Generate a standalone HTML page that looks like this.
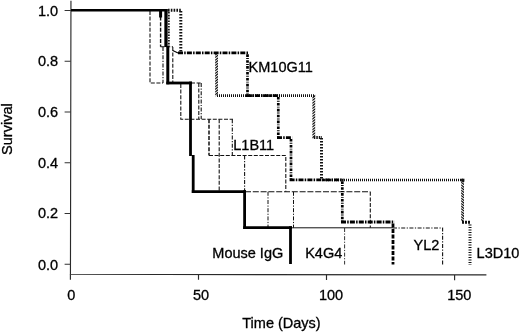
<!DOCTYPE html>
<html><head><meta charset="utf-8"><title>Survival</title>
<style>
html,body{margin:0;padding:0;background:#fff;}
body{width:520px;height:332px;overflow:hidden;}
svg{display:block;}
text{font-family:"Liberation Sans",Arial,Helvetica,sans-serif;font-size:14.5px;fill:#000;stroke:#000;stroke-width:0.3px;}
</style></head><body>
<svg width="520" height="332" viewBox="0 0 520 332">
<rect width="520" height="332" fill="#fff"/>
<!-- axes -->
<g stroke="#2a2a2a" stroke-width="1.15" fill="none">
<path d="M70.95 0.8L70.45 274.3L486.4 274.9"/>
<path d="M70.4 274.3V279.7M198.5 274.5V279.8M326.5 274.7V280M454.6 274.9V280.2"/>
<path d="M64.6 10.5H70.9M64.6 61.2H70.8M64.6 112H70.7M64.6 162.7H70.6M64.6 213.5H70.5M64.6 264.2H70.4" stroke-width="1.05" stroke="#333"/>
</g>
<!-- tick labels -->
<g text-anchor="end" transform="translate(0.6 0)">
<text x="57.5" y="15.5">1.0</text>
<text x="57.5" y="66.3">0.8</text>
<text x="57.5" y="117">0.6</text>
<text x="57.5" y="167.7">0.4</text>
<text x="57.5" y="218.4">0.2</text>
<text x="57.5" y="269.8">0.0</text>
</g>
<g text-anchor="middle">
<text x="71.2" y="300">0</text>
<text x="201" y="300">50</text>
<text x="331" y="300">100</text>
<text x="459.3" y="300">150</text>
<text x="281.5" y="327.8">Time (Days)</text>
<text transform="translate(12.3 129.1) rotate(-90)">Survival</text>
</g>
<!-- thin curves -->
<g stroke="#111" stroke-width="1.08" fill="none">
<g stroke-dasharray="4 1.6">
<path d="M150 11V83H163"/>
<path d="M160.6 11V46.7" stroke-width="1.4"/>
<path d="M160.6 46.7H173"/>
<path d="M172.8 47V83"/>
<path d="M180.8 84V119.2H233"/>
<path d="M198.8 83V119"/>
<path d="M209 119.2V155.5" stroke-width="1.5"/>
<path d="M209 155.5H285.8V191.8"/>
<path d="M219.2 119.2V191.6"/>
<path d="M245 191.8H370.3" stroke-width="1.05" stroke-dasharray="6 1.8"/>
<path d="M370.3 191.8V227.8"/>
<path d="M191 83H201.2"/>
</g>
<g stroke-dasharray="4 1.5 1.2 1.5">
<path d="M163 47V83"/>
<path d="M201.2 83V119"/>
<path d="M232.3 119.2V155.5"/>
<path d="M244.6 155.5V191.6"/>
<path d="M268 191.8V227.8" stroke-width="1"/>
<path d="M293.5 191.8V227.8" stroke-width="1"/>
<path d="M344.6 228V264.5" stroke-width="1" stroke="#333"/>
<path d="M393 228H442.6V264.5" stroke-width="1.1"/>
</g>
<path d="M291 227.8H393" stroke-width="1"/>
</g>
<!-- L3D10 heavy dotted -->
<g stroke="#111" fill="none" stroke-width="3">
<path d="M168 10.3H181" stroke-dasharray="1.6 1.2"/>
<path d="M180.8 11V52.7" stroke-dasharray="1.6 1.4"/>
<path d="M216.6 53V95.6" stroke-dasharray="1.55 1.1" stroke-width="2.8" transform="translate(216.6 0) skewY(-40) translate(-216.6 0)"/>
<path d="M217 95.6H314" stroke-dasharray="1 1" stroke-width="2.7"/>
<path d="M313.8 96V137.5" stroke-dasharray="1.55 1.1" stroke-width="2.8" transform="translate(313.8 0) skewY(-40) translate(-313.8 0)"/>
<path d="M313.8 137.5H322" stroke-dasharray="1.5 1"/>
<path d="M321.5 138V180" stroke-dasharray="1.6 1.4"/>
<path d="M322 180H463" stroke-dasharray="1 1" stroke-width="2.7"/>
<path d="M462.6 180V222.5" stroke-dasharray="1.55 1.1" stroke-width="2.8" transform="translate(462.6 0) skewY(40) translate(-462.6 0)"/>
<path d="M462 222.3H470.5" stroke-dasharray="2 1"/>
<path d="M461.2 180.2H464.4" stroke-dasharray="none"/>
<path d="M470 224.5V265" stroke-dasharray="1.1 1.4"/>
</g>
<!-- KM10G11 heavy dash-dot -->
<g stroke="#000" fill="none" stroke-width="2.8" stroke-dasharray="5 1.2 1.5 1.2">
<path d="M168.9 12V46" stroke-width="1.6" stroke-dasharray="1.6 1.2"/>
<path d="M172.8 50.5L178 52.9" stroke-width="1.1" stroke-dasharray="none"/>
<path d="M178 52.9H248.8"/>
<path d="M246 95.6H279.6"/>
<path d="M277 137.6H292.2"/>
<path d="M289.6 179.9H343.6"/>
<path d="M341 222H394.5"/>
<g stroke-width="2.7" stroke-dasharray="2.6 1.2 0.9 1.2">
<path d="M247.5 54.3V95.6"/>
<path d="M278.3 97V137.6"/>
<path d="M291 139V179.9"/>
<path d="M342.3 181.3V222"/>
</g>
<path d="M393 223.4V264.5" stroke-dasharray="4.2 1.3"/>
</g>
<!-- Mouse IgG thick solid -->
<g stroke="#000" fill="none" stroke-width="2.8" stroke-linejoin="miter">
<path d="M71 10.2H167.5" stroke-width="2.6"/>
<path d="M166 9V47" stroke-width="3.3"/>
<path d="M167.8 46V84.3" stroke-width="3"/>
<path d="M166.3 83H192"/>
<path d="M190.5 81.6V156"/>
<path d="M193.2 155V193"/>
<path d="M191.8 191.6H246"/>
<path d="M244.6 190.2V229"/>
<path d="M243.2 227.6H292"/>
<path d="M290.5 226.2V264"/>
<path d="M160.6 11V17.5" stroke-width="3"/>
</g>
<!-- labels -->
<text x="248.6" y="72">KM10G11</text>
<text x="233.3" y="150">L1B11</text>
<text x="212.3" y="258.4">Mouse IgG</text>
<text x="305.2" y="258.4">K4G4</text>
<text x="413.6" y="249.8">YL2</text>
<text x="476.6" y="258.4">L3D10</text>
</svg>
</body></html>
